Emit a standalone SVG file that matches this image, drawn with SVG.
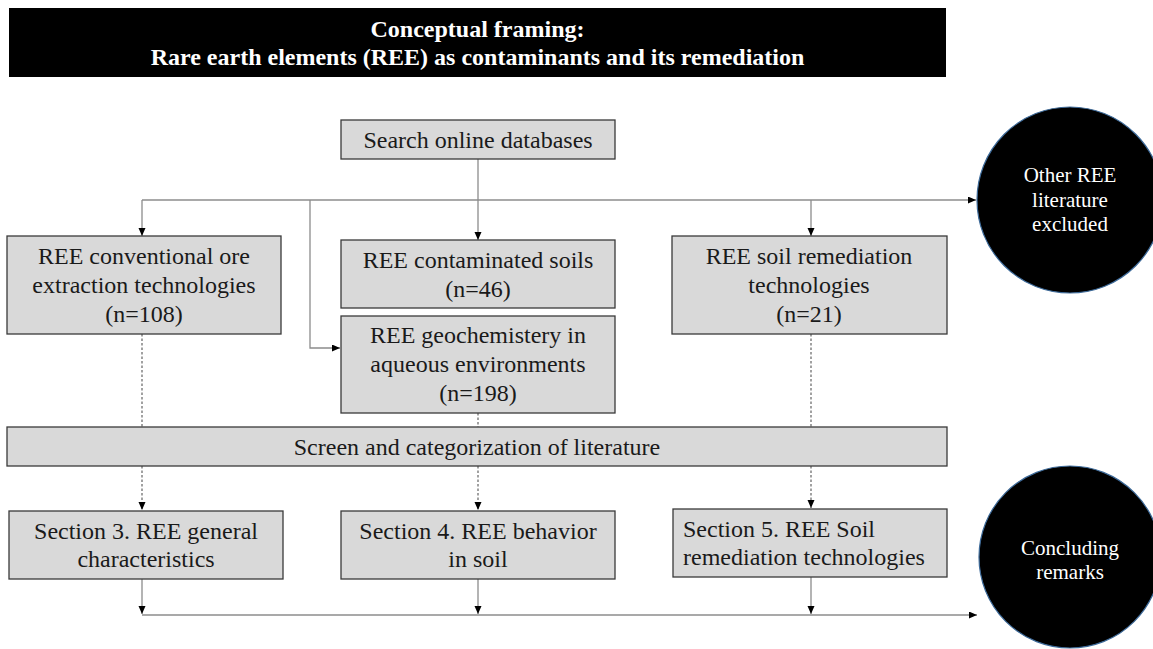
<svg xmlns="http://www.w3.org/2000/svg" width="1153" height="649" viewBox="0 0 1153 649">
<style>
.box{fill:#d9d9d9;stroke:#3a3a3a;stroke-width:1.3}
.t{font-family:"Liberation Serif","Times New Roman",serif;font-size:24px;fill:#1a1a1a;text-anchor:middle}
.tl{font-family:"Liberation Serif","Times New Roman",serif;font-size:24px;fill:#1a1a1a}
.title{font-family:"Liberation Serif","Times New Roman",serif;font-size:24px;font-weight:bold;fill:#fff;text-anchor:middle}
.ct{font-family:"Liberation Serif","Times New Roman",serif;font-size:21px;fill:#fff;text-anchor:middle}
.circ{fill:#000;stroke:#3d6a99;stroke-width:1.2}
.ln{fill:none;stroke:#8c8c8c;stroke-width:1.3}
.lk{fill:none;stroke:#444;stroke-width:1.2}
.dt{fill:none;stroke:#555;stroke-width:1.1;stroke-dasharray:2.5,2}
</style>
<defs>
<marker id="ah" markerUnits="userSpaceOnUse" markerWidth="9" markerHeight="8" refX="8" refY="3.5" orient="auto">
<path d="M0,0 L8,3.5 L0,7 z" fill="#000"/>
</marker>
</defs>
<rect width="1153" height="649" fill="#fff"/>

<g id="title">
<rect x="9" y="8" width="937" height="69" fill="#000"/>
<text class="title" x="477.5" y="37">Conceptual framing:</text>
<text class="title" x="477.5" y="65">Rare earth elements (REE) as contaminants and its remediation</text>
</g>

<g id="connectors">
<line class="ln" x1="478" y1="159" x2="478" y2="240" marker-end="url(#ah)"/>
<line class="ln" x1="142" y1="200" x2="976" y2="200" marker-end="url(#ah)"/>
<line class="ln" x1="142" y1="200" x2="142" y2="236" marker-end="url(#ah)"/>
<line class="ln" x1="811" y1="200" x2="811" y2="236" marker-end="url(#ah)"/>
<polyline class="ln" points="310,200 310,348 340,348" marker-end="url(#ah)"/>
<line class="dt" x1="142" y1="334" x2="142" y2="427"/>
<line class="dt" x1="478" y1="413" x2="478" y2="427"/>
<line class="dt" x1="811" y1="334" x2="811" y2="427"/>
<line class="dt" x1="142" y1="466" x2="142" y2="510" marker-end="url(#ah)"/>
<line class="dt" x1="478" y1="466" x2="478" y2="510" marker-end="url(#ah)"/>
<line class="dt" x1="811" y1="466" x2="811" y2="508" marker-end="url(#ah)"/>
<line class="ln" x1="142" y1="579" x2="142" y2="614" marker-end="url(#ah)"/>
<line class="ln" x1="478" y1="579" x2="478" y2="614" marker-end="url(#ah)"/>
<line class="ln" x1="811" y1="577" x2="811" y2="614" marker-end="url(#ah)"/>
<line class="ln" x1="142" y1="615" x2="977" y2="615" marker-end="url(#ah)"/>
</g>

<g id="search">
<rect class="box" x="341" y="120" width="274" height="39"/>
<text class="t" x="478" y="148">Search online databases</text>
</g>

<g id="ore">
<rect class="box" x="7" y="236" width="274" height="98"/>
<text class="t" x="144" y="264">REE conventional ore</text>
<text class="t" x="144" y="293">extraction technologies</text>
<text class="t" x="144" y="322">(n=108)</text>
</g>

<g id="soils">
<rect class="box" x="341" y="240" width="274" height="68"/>
<text class="t" x="478" y="268">REE contaminated soils</text>
<text class="t" x="478" y="297">(n=46)</text>
</g>

<g id="geochem">
<rect class="box" x="341" y="316" width="274" height="97"/>
<text class="t" x="478" y="343">REE geochemistery in</text>
<text class="t" x="478" y="372">aqueous environments</text>
<text class="t" x="478" y="401">(n=198)</text>
</g>

<g id="remediation">
<rect class="box" x="672" y="236" width="275" height="98"/>
<text class="t" x="809" y="264">REE soil remediation</text>
<text class="t" x="809" y="293">technologies</text>
<text class="t" x="809" y="322">(n=21)</text>
</g>

<g id="excluded">
<circle class="circ" cx="1070" cy="200" r="93"/>
<text class="ct" x="1070" y="182">Other REE</text>
<text class="ct" x="1070" y="207">literature</text>
<text class="ct" x="1070" y="231">excluded</text>
</g>

<g id="screen">
<rect class="box" x="7" y="427" width="940" height="39"/>
<text class="t" x="477" y="455">Screen and categorization of literature</text>
</g>

<g id="sec3">
<rect class="box" x="9" y="511" width="274" height="68"/>
<text class="t" x="146" y="539">Section 3. REE general</text>
<text class="t" x="146" y="567">characteristics</text>
</g>

<g id="sec4">
<rect class="box" x="341" y="511" width="274" height="68"/>
<text class="t" x="478" y="539">Section 4. REE behavior</text>
<text class="t" x="478" y="567">in soil</text>
</g>

<g id="sec5">
<rect class="box" x="673" y="509" width="274" height="68"/>
<text class="tl" x="683" y="537">Section 5. REE Soil</text>
<text class="tl" x="683" y="565">remediation technologies</text>
</g>

<g id="concluding">
<circle class="circ" cx="1070" cy="557" r="91"/>
<text class="ct" x="1070" y="555">Concluding</text>
<text class="ct" x="1070" y="579">remarks</text>
</g>
</svg>
